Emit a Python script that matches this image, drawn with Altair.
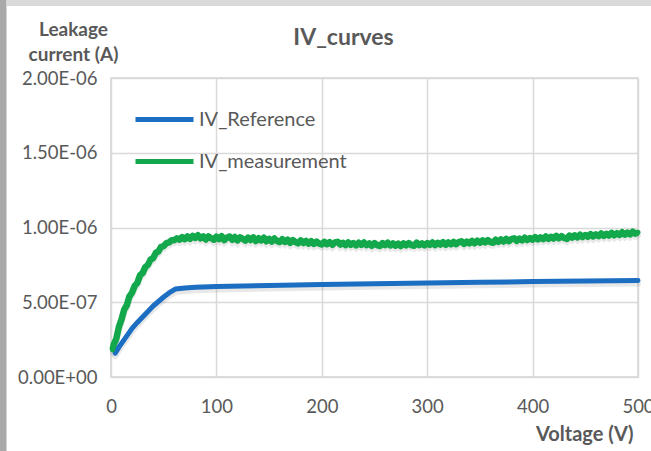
import altair as alt
import pandas as pd

# Reference IV curve (smooth), voltage in V, current in units of 1e-7 A
ref_v = [4, 8, 12, 16, 20, 25, 30, 35, 40, 45, 50, 55, 61, 70, 80, 100,
         150, 200, 250, 300, 350, 400, 450, 500]
ref_i = [1.60, 2.05, 2.45, 2.85, 3.25, 3.65, 4.02, 4.38, 4.75, 5.05, 5.35,
         5.62, 5.88, 5.95, 6.00, 6.05, 6.12, 6.18, 6.23, 6.28, 6.33, 6.38,
         6.42, 6.45]

# Measured IV curve (noisy): sweep in 2.5 V steps, current in units of 1e-7 A
meas_v = [1.5] + [2.5 * k for k in range(1, 201)]
meas_i = [
    1.80, 2.15, 2.55, 3.35, 3.85, 4.50, 4.80, 5.40, 5.65,
    6.10, 6.30, 6.80, 6.95, 7.35, 7.50, 7.85, 7.95,
    8.30, 8.40, 8.70, 8.75, 8.95, 9.00, 9.15, 9.15,
    9.28, 9.18, 9.36, 9.22, 9.40, 9.24, 9.44, 9.30,
    9.48, 9.28, 9.40, 9.20, 9.40, 9.28, 9.18, 9.38,
    9.22, 9.42, 9.16, 9.32, 9.40, 9.18, 9.36, 9.14,
    9.34, 9.24, 9.12, 9.32, 9.16, 9.34, 9.10, 9.28,
    9.14, 9.32, 9.08, 9.24, 9.06, 9.26, 9.10, 9.02,
    9.22, 9.04, 9.18, 8.98, 9.16, 9.02, 8.94, 9.14,
    8.96, 9.10, 8.92, 9.08, 8.90, 9.06, 8.92, 8.86,
    9.04, 8.88, 9.02, 8.84, 9.00, 9.04, 8.86, 8.98,
    8.82, 9.00, 8.84, 8.96, 8.80, 8.98, 8.84, 9.00,
    8.82, 8.94, 8.78, 8.96, 8.82, 8.76, 8.96, 8.82,
    8.98, 8.80, 8.94, 8.78, 8.92, 8.76, 8.94, 8.80,
    8.96, 8.82, 8.78, 8.98, 8.82, 8.94, 8.80, 8.96,
    8.84, 9.00, 8.82, 8.98, 8.86, 9.02, 8.84, 9.00,
    8.88, 9.04, 8.88, 9.02, 9.08, 8.90, 9.06, 8.94,
    9.10, 8.94, 9.12, 8.98, 9.14, 9.00, 9.16, 9.02,
    8.98, 9.18, 9.04, 9.20, 9.06, 9.24, 9.08, 9.22,
    9.28, 9.10, 9.26, 9.14, 9.32, 9.16, 9.30, 9.18,
    9.36, 9.20, 9.34, 9.22, 9.40, 9.24, 9.38, 9.26,
    9.44, 9.28, 9.42, 9.30, 9.24, 9.46, 9.32, 9.48,
    9.34, 9.52, 9.36, 9.50, 9.38, 9.56, 9.40, 9.54,
    9.42, 9.60, 9.44, 9.58, 9.46, 9.64, 9.48, 9.62,
    9.50, 9.68, 9.52, 9.66, 9.54, 9.72, 9.58, 9.68,
]
assert len(meas_v) == len(meas_i)

series_names = ["IV_Reference", "IV_measurement"]
series_colors = ["#1B6EC2", "#13A84B"]

y_ticks = [0, 5e-7, 1e-6, 1.5e-6, 2e-6]
x_ticks = [0, 100, 200, 300, 400, 500]

rows = []
for v, i in zip(ref_v, ref_i):
    rows.append({"Voltage": v, "Current": i * 1e-7, "Series": series_names[0]})
for v, i in zip(meas_v, meas_i):
    rows.append({"Voltage": v, "Current": i * 1e-7, "Series": series_names[1]})
df = pd.DataFrame(rows)

FONT = "Lato"
TXT = "#595959"

x_enc = alt.X(
    "Voltage:Q",
    scale=alt.Scale(domain=[0, 500], nice=False),
    axis=alt.Axis(
        values=x_ticks, format="d", ticks=False, domain=False,
        labelPadding=20, labelFontSize=18.5, labelColor=TXT, labelFont=FONT,
        labelFlush=False, labelOverlap=False,
        gridColor="#d9d9d9", gridWidth=1.5,
        title="Voltage (V)", titleFont=FONT, titleFontSize=20,
        titleFontWeight="bold", titleColor=TXT,
        titleAnchor="end", titleAlign="right", titleBaseline="alphabetic",
        titleX=522, titleY=63,
    ),
)
y_enc = alt.Y(
    "Current:Q",
    scale=alt.Scale(domain=[0, 2e-6], nice=False),
    axis=alt.Axis(
        values=y_ticks, ticks=False, domain=False,
        labelExpr="replace(replace(format(datum.value, '.2e'), 'e-', 'E-0'), 'e+', 'E+0')",
        labelPadding=14, labelFontSize=18.5, labelColor=TXT, labelFont=FONT,
        gridColor="#d9d9d9", gridWidth=1.5,
        title=["Leakage", "current (A)"], titleFont=FONT, titleFontSize=19,
        titleFontWeight="bold", titleColor=TXT, titleAngle=0,
        titleAlign="center", titleBaseline="alphabetic", titleLineHeight=25,
        titleX=-38, titleY=-43,
    ),
)

color_enc = alt.Color(
    "Series:N",
    scale=alt.Scale(domain=series_names, range=series_colors),
    legend=alt.Legend(
        title=None, orient="none", legendX=22, legendY=10,
        symbolType="stroke", symbolSize=3364, symbolStrokeWidth=5,
        labelFont=FONT, labelFontSize=20, labelColor=TXT, labelOffset=3,
        rowPadding=-16,
    ),
)

shadow = alt.Chart(df).mark_line(
    strokeWidth=6, color="#808080", opacity=0.18, yOffset=3, strokeCap="round"
).encode(x=x_enc, y=y_enc, detail="Series:N")

# Slightly heavier underlay that gives the noisy measurement its ragged width
meas_under = alt.Chart(df).transform_filter(
    alt.datum.Series == series_names[1]
).mark_line(strokeWidth=6.5, color=series_colors[1], strokeJoin="round").encode(
    x=x_enc, y=y_enc, order="Voltage:Q"
)

lines = alt.Chart(df).mark_line(strokeWidth=5, strokeCap="round", strokeJoin="round").encode(
    x=x_enc, y=y_enc, color=color_enc, order="Voltage:Q"
)

# Outer frame bands of the chart sheet
frame = alt.Data(values=[{}])
top_band = alt.Chart(frame).mark_rect(color="#d9d9d9").encode(
    x=alt.value(-111), x2=alt.value(540), y=alt.value(-78), y2=alt.value(-72)
)
left_band = alt.Chart(frame).mark_rect(color="#a9a9a9").encode(
    x=alt.value(-111), x2=alt.value(-105), y=alt.value(-78), y2=alt.value(373)
)
left_band2 = alt.Chart(frame).mark_rect(color="#d4d4d4").encode(
    x=alt.value(-105), x2=alt.value(-104), y=alt.value(-78), y2=alt.value(373)
)

chart = alt.layer(shadow, meas_under, lines, top_band, left_band, left_band2).properties(
    width=527, height=299,
    title=alt.TitleParams(
        "IV_curves", font=FONT, fontSize=23, fontWeight="bold", color=TXT,
        anchor="middle", frame="group", dx=-31, dy=68, baseline="alphabetic", offset=0,
    ),
    autosize=alt.AutoSizeParams(type="none"),
    padding={"left": 111, "top": 78, "right": 13, "bottom": 74},
    background="white",
).configure_view(stroke="#d4d4d4", strokeWidth=1.5)

chart.save("out.html", embed_options={"renderer": "svg", "actions": False})
